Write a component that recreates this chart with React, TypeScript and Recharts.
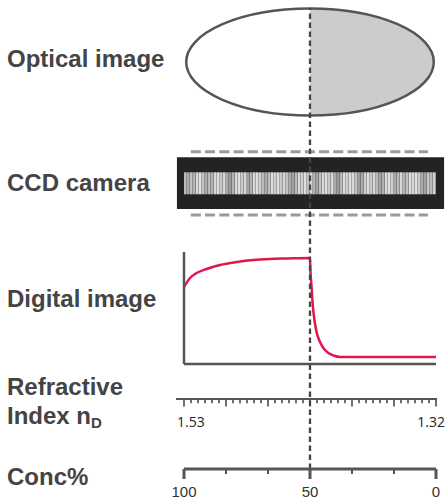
import React from 'react';
import {
  ComposedChart,
  LineChart,
  Line,
  Bar,
  Cell,
  XAxis,
  YAxis,
  ReferenceArea,
  ReferenceLine,
} from 'recharts';

const W = 446;
const H = 500;

// digital image: detector signal along the prism edge (x = concentration %)
const profileConc = [100, 97.6, 95, 91, 85.7, 79, 72.5, 66, 59, 50, 49.8, 49.4, 49, 48.3, 47.4, 46.2, 44.7, 42.7, 40.7, 38, 20, 0];
const profileSignal = [77, 86, 91, 95, 99, 102, 104, 105, 105.5, 106, 92, 78, 62, 45, 32, 23, 16, 11, 8.5, 7, 7, 7];

// CCD pixel stripes, darkness 0..100 from left to right
const stripeDarkness = [
  35, 45, 30, 40, 15, 10, 30, 45, 35, 40, 15, 10, 25, 15, 45, 55, 40, 15, 10, 25, 15,
  50, 40, 15, 10, 20, 35, 45, 30, 10, 20, 10, 25, 15, 30, 45, 50, 35, 15, 20, 10, 30,
  15, 40, 50, 30, 15, 10, 25, 15, 45, 55, 35, 10, 20, 10, 15, 30, 55, 45, 20, 10, 25,
  15, 35, 50, 40, 15, 10, 20, 45, 35, 15, 40, 30, 10, 15, 10, 25, 45, 50, 25, 35, 20,
];

// concentration scale
const concTicks = [100, 83.33, 66.67, 50, 33.33, 16.67, 0];
const concLabels = ['100', '', '', '50', '', '', '0'];

// refractive index scale
const riDomain = [1.32, 1.53];
const riLabels = ['1.53', '1.32'];
const riDivisions = 36;
const riTicks = Array.from({ length: riDivisions + 1 }, (_, k) =>
  Number((riDomain[1] - (k * (riDomain[1] - riDomain[0])) / riDivisions).toFixed(5))
);

const rowLabels = ['Optical image', 'CCD camera', 'Digital image', 'Refractive', 'Index n', 'Conc%'];

const profileData = profileConc.map((c, i) => ({ conc: c, signal: profileSignal[i] }));
const stripeData = stripeDarkness.map((d, i) => ({
  pos: 100 - ((i + 0.5) * 100) / stripeDarkness.length,
  band: [22.7, 44.7],
  d,
}));
const frameData = [{ c: 0, y: 0 }, { c: 100, y: 1 }];
const riData = [{ ri: riDomain[0], y: 0 }, { ri: riDomain[1], y: 1 }];

const grayOf = (d: number) => {
  const g = Math.round(238 - d * 1.5);
  return `rgb(${g},${g},${g})`;
};

const layer: React.CSSProperties = { position: 'absolute', left: 0, top: 0 };
const labelFont = 'Liberation Sans, Arial, sans-serif';

const EllipseShape = (props: any) => {
  const { x, y, width, height } = props;
  const cx = x + width / 2;
  const cy = y + height / 2;
  const rx = width / 2 - 2.2;
  const ry = height / 2 - 0.5;
  return (
    <g>
      <path d={`M${cx},${cy - ry} A${rx},${ry} 0 0 0 ${cx},${cy + ry} Z`} fill="#ffffff" />
      <path d={`M${cx},${cy - ry} A${rx},${ry} 0 0 1 ${cx},${cy + ry} Z`} fill="#cccccc" />
      <ellipse cx={cx} cy={cy} rx={rx} ry={ry} fill="none" stroke="#555555" strokeWidth={2.5} />
    </g>
  );
};

const ConcTick = (props: any) => {
  const { x, y, index } = props;
  const major = concLabels[index] !== '';
  return (
    <g>
      <line x1={x} x2={x} y1={y} y2={y + (major ? 10 : 5)} stroke="#555555" strokeWidth={major ? 3 : 2} />
      {major && (
        <text x={x} y={y + 28} textAnchor="middle" fontSize={15} fontFamily={labelFont} fill="#333333">
          {concLabels[index]}
        </text>
      )}
    </g>
  );
};

const RiTick = (props: any) => {
  const { x, y, index } = props;
  const major = index % 6 === 0;
  const first = index === 0;
  const last = index === riDivisions;
  return (
    <g>
      <line x1={x} x2={x} y1={y} y2={y + (major ? 7.5 : 4.3)} stroke="#555555" strokeWidth={1.7} />
      {(first || last) && (
        <text
          x={first ? x - 7 : x + 9}
          y={y + 28}
          textAnchor={first ? 'start' : 'end'}
          fontSize={14}
          fontFamily="Open Sans, sans-serif"
          fill="#222222"
        >
          {first ? riLabels[0] : riLabels[1]}
        </text>
      )}
    </g>
  );
};

const App = () => {
  const textStyle = { fontFamily: labelFont, fontWeight: 700, fontSize: 24, fill: '#444444' };
  return (
    <div style={{ position: 'absolute', left: 0, top: 0, width: W, height: H, background: '#ffffff' }}>
      {/* optical image */}
      <div style={layer}>
        <ComposedChart width={W} height={H} data={frameData} margin={{ top: 8, right: 10, bottom: 384, left: 184 }}>
          <XAxis dataKey="c" type="number" domain={[0, 100]} reversed hide allowDataOverflow />
          <YAxis dataKey="y" type="number" domain={[0, 1]} hide allowDataOverflow />
          <ReferenceArea x1={100} x2={0} y1={0} y2={1} ifOverflow="visible" shape={EllipseShape} />
        </ComposedChart>
      </div>

      {/* CCD camera */}
      <div style={layer}>
        <ComposedChart width={W} height={H} data={stripeData} margin={{ top: 150, right: 10, bottom: 283, left: 184 }}>
          <XAxis dataKey="pos" type="number" domain={[0, 100]} reversed hide allowDataOverflow />
          <YAxis type="number" domain={[0, 67]} hide allowDataOverflow />
          <ReferenceArea
            x1={102.8}
            x2={-3.2}
            y1={8}
            y2={59.7}
            fill="#232323"
            fillOpacity={1}
            stroke="none"
            ifOverflow="visible"
          />
          <Bar dataKey="band" barSize={4} isAnimationActive={false}>
            {stripeData.map((s, i) => (
              <Cell key={i} fill={grayOf(s.d)} />
            ))}
          </Bar>
          <ReferenceLine
            segment={[{ x: 97.3, y: 65.3 }, { x: 3.2, y: 65.3 }]}
            stroke="#9a9a9a"
            strokeWidth={3}
            strokeDasharray="10 4.25"
            ifOverflow="visible"
          />
          <ReferenceLine
            segment={[{ x: 97.3, y: 2 }, { x: 3.2, y: 2 }]}
            stroke="#9a9a9a"
            strokeWidth={3}
            strokeDasharray="10 4.25"
            ifOverflow="visible"
          />
        </ComposedChart>
      </div>

      {/* digital image */}
      <div style={layer}>
        <LineChart width={W} height={H} data={profileData} margin={{ top: 252, right: 10, bottom: 135, left: 183 }}>
          <XAxis
            dataKey="conc"
            type="number"
            domain={[0, 100]}
            reversed
            tick={false}
            tickLine={false}
            height={1}
            axisLine={{ stroke: '#555555', strokeWidth: 2.5 }}
          />
          <YAxis
            type="number"
            domain={[0, 112]}
            tick={false}
            tickLine={false}
            width={1}
            axisLine={{ stroke: '#555555', strokeWidth: 2.5 }}
          />
          <Line
            dataKey="signal"
            type="monotone"
            stroke="#e0174b"
            strokeWidth={2.5}
            dot={false}
            isAnimationActive={false}
          />
        </LineChart>
      </div>

      {/* refractive index scale */}
      <div style={layer}>
        <ComposedChart width={W} height={H} data={riData} margin={{ top: 380, right: 9, bottom: 61, left: 176 }}>
          <XAxis
            dataKey="ri"
            type="number"
            domain={riDomain}
            reversed
            ticks={riTicks}
            interval={0}
            height={40}
            padding={{ left: 8, right: 1 }}
            tickSize={0}
            tickMargin={0}
            tickLine={false}
            allowDataOverflow
            axisLine={{ stroke: '#555555', strokeWidth: 2 }}
            tick={<RiTick />}
          />
          <YAxis dataKey="y" type="number" domain={[0, 1]} hide />
        </ComposedChart>
      </div>

      {/* row labels */}
      <svg width={W} height={H} style={layer}>
        <text x={7} y={67} style={textStyle}>{rowLabels[0]}</text>
        <text x={7} y={191} style={textStyle}>{rowLabels[1]}</text>
        <text x={7} y={307} style={textStyle}>{rowLabels[2]}</text>
        <text x={7} y={395} style={textStyle}>{rowLabels[3]}</text>
        <text x={7} y={424} style={textStyle}>
          {rowLabels[4]}
          <tspan fontSize={15} dy={4}>D</tspan>
        </text>
        <text x={7} y={485} style={textStyle}>{rowLabels[5]}</text>
      </svg>

      {/* concentration scale + 50% marker */}
      <div style={layer}>
        <ComposedChart width={W} height={H} data={frameData} margin={{ top: 8, right: 10, bottom: 0, left: 184 }}>
          <XAxis
            dataKey="c"
            type="number"
            domain={[0, 100]}
            reversed
            ticks={concTicks}
            interval={0}
            height={31}
            tickSize={0}
            tickMargin={0}
            tickLine={false}
            axisLine={{ stroke: '#555555', strokeWidth: 3 }}
            tick={<ConcTick />}
          />
          <YAxis dataKey="y" type="number" domain={[0, 1]} hide allowDataOverflow />
          <ReferenceLine x={50} stroke="#444444" strokeWidth={2.3} strokeDasharray="5.5 3.5" ifOverflow="visible" />
        </ComposedChart>
      </div>
    </div>
  );
};

export default App;
